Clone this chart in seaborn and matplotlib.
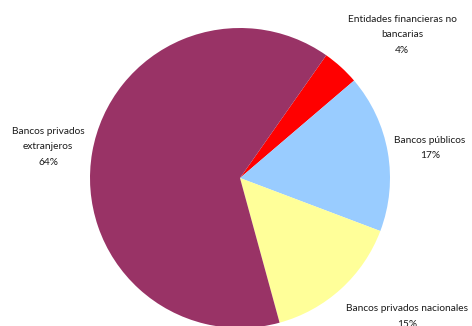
import matplotlib
matplotlib.use("Agg")
import matplotlib.pyplot as plt
import seaborn as sns

categories = ["Entidades financieras no\nbancarias", "Bancos públicos",
              "Bancos privados nacionales", "Bancos privados\nextranjeros"]
values = [4, 17, 15, 64]
colors = ["#FF0000", "#99CCFF", "#FFFF99", "#993366"]

sns.set_theme(style="white")
plt.rcParams['font.family'] = ['Lato', 'DejaVu Sans']

fig = plt.figure(figsize=(4.72, 3.26), dpi=100)
ax = fig.add_axes([0, 0, 1, 1])
wedges, _ = ax.pie(values, colors=colors, startangle=54.9, counterclock=False,
                   radius=1.0, center=(0, 0), wedgeprops=dict(linewidth=0))
ax.set_xlim(-1.6, 1.5467)
ax.set_ylim(-0.9867, 1.1867)
ax.set_aspect('equal')
ax.axis('off')

label_pos = [(1.08, 0.955), (1.267, 0.2), (1.113, -0.925), (-1.28, 0.207)]
for cat, v, (x, y) in zip(categories, values, label_pos):
    ax.text(x, y, f"{cat}\n{v}%", ha='center', va='center', fontsize=7.3,
            color='#1a1a1a', linespacing=1.95)

fig.savefig("out.png", dpi=100)
